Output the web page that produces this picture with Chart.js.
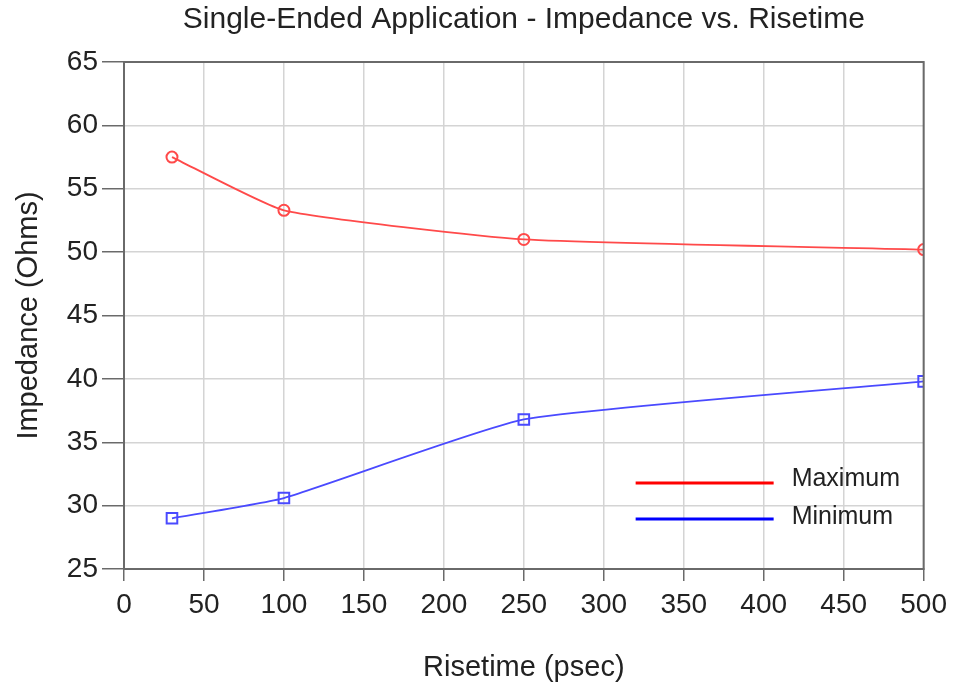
<!DOCTYPE html>
<html lang="en">
<head>
    <meta charset="UTF-8">
    <title>Impedance vs. Risetime</title>
    <script src="https://cdn.jsdelivr.net/npm/chart.js"></script>
    <style>
        html, body { margin: 0; padding: 0; background: #fff; }
        #wrap { width: 954px; height: 685px; }
    </style>
</head>
<body>
    <div id="wrap"><canvas id="impChart"></canvas></div>
    <script>
        // values
        var risetime = [30, 100, 250, 500];
        var maxImpedance = [57.5, 53.3, 51.0, 50.2];
        var minImpedance = [29.0, 30.6, 36.8, 39.8];
        var xTicks = [0, 50, 100, 150, 200, 250, 300, 350, 400, 450, 500];
        var yTicks = [25, 30, 35, 40, 45, 50, 55, 60, 65];

        var FONT = '"Liberation Sans", Arial, Helvetica, sans-serif';
        var AXIS = '#6a6a6a';

        function pts(ys) {
            return risetime.map(function (x, i) { return { x: x, y: ys[i] }; });
        }

        // frame, title and in-plot legend
        var decor = {
            id: 'decor',
            afterDraw: function (chart) {
                var c = chart.ctx, a = chart.chartArea;
                c.save();
                c.strokeStyle = AXIS;
                c.lineWidth = 2;
                c.strokeRect(a.left, a.top, a.right - a.left, a.bottom - a.top);

                c.fillStyle = '#222';
                c.font = '30px ' + FONT;
                c.textAlign = 'center';
                c.textBaseline = 'middle';
                c.fillText('Single-Ended Application - Impedance vs. Risetime', (a.left + a.right) / 2, 20);

                var legend = [['Maximum', '#ff0000'], ['Minimum', '#0000ff']];
                c.textAlign = 'left';
                c.font = '25px ' + FONT;
                legend.forEach(function (l, i) {
                    var y = a.bottom - 86 + i * 36;
                    c.strokeStyle = l[1];
                    c.lineWidth = 3;
                    c.beginPath();
                    c.moveTo(a.right - 288, y);
                    c.lineTo(a.right - 150, y);
                    c.stroke();
                    c.fillStyle = '#222';
                    c.fillText(l[0], a.right - 132, y - 4 + i * 2);
                });
                c.restore();
            }
        };

        var ctx = document.getElementById('impChart').getContext('2d');
        var impChart = new Chart(ctx, {
            type: 'line',
            data: {
                datasets: [{
                    label: 'Maximum',
                    data: pts(maxImpedance),
                    borderColor: '#ff4a4a',
                    borderWidth: 1.8,
                    pointStyle: 'circle',
                    pointRadius: 5.5,
                    pointBorderWidth: 2,
                    pointBorderColor: '#ff4a4a',
                    pointBackgroundColor: 'rgba(255,255,255,0)',
                    tension: 0.15
                }, {
                    label: 'Minimum',
                    data: pts(minImpedance),
                    borderColor: '#4a4aff',
                    borderWidth: 1.8,
                    pointStyle: 'rect',
                    pointRadius: 7.5,
                    pointBorderWidth: 2,
                    pointBorderColor: '#4a4aff',
                    pointBackgroundColor: 'rgba(255,255,255,0)',
                    tension: 0.15
                }]
            },
            options: {
                responsive: true,
                maintainAspectRatio: false,
                animation: false,
                layout: { padding: { top: 62, right: 29, left: 8, bottom: 0 } },
                plugins: {
                    legend: { display: false },
                    title: { display: false },
                    tooltip: { enabled: false }
                },
                scales: {
                    x: {
                        type: 'linear',
                        min: 0,
                        max: 500,
                        afterBuildTicks: function (s) { s.ticks = xTicks.map(function (v) { return { value: v }; }); },
                        afterFit: function (s) { s.height = 116; },
                        grid: { color: '#d4d4d4', lineWidth: 1.5, tickLength: 12, tickColor: AXIS, tickWidth: 1.5 },
                        border: { color: AXIS, width: 2 },
                        ticks: { color: '#222', font: { family: FONT, size: 28 }, padding: 7, maxRotation: 0 },
                        title: { display: true, text: 'Risetime (psec)', color: '#222', font: { family: FONT, size: 29 }, padding: { top: 10, bottom: 0 } }
                    },
                    y: {
                        min: 25,
                        max: 65,
                        afterBuildTicks: function (s) { s.ticks = yTicks.map(function (v) { return { value: v }; }); },
                        afterFit: function (s) { s.width = 116; },
                        grid: { color: '#d4d4d4', lineWidth: 1.5, tickLength: 22, tickColor: AXIS, tickWidth: 1.5 },
                        border: { color: AXIS, width: 2 },
                        ticks: { color: '#222', font: { family: FONT, size: 28 }, padding: 4 },
                        title: { display: true, text: 'Impedance (Ohms)', color: '#222', font: { family: FONT, size: 29 }, padding: { bottom: 10 } }
                    }
                }
            },
            plugins: [decor]
        });
    </script>
</body>
</html>
